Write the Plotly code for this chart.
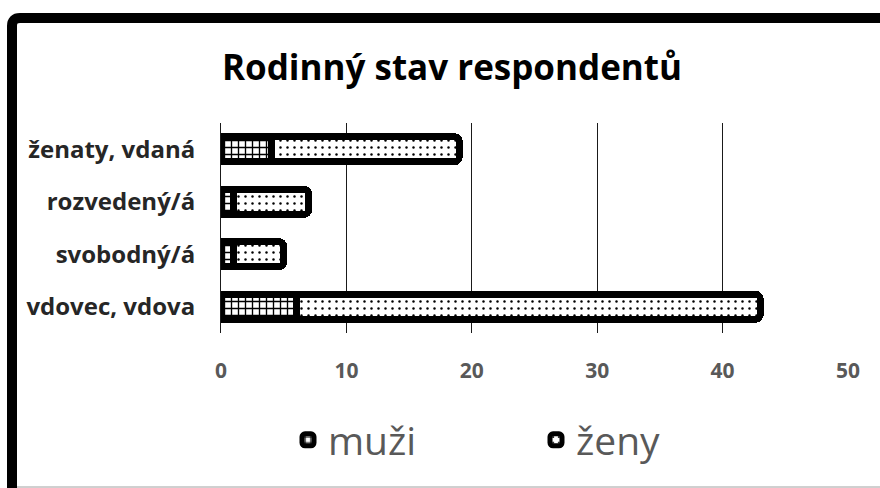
import plotly.graph_objects as go

categories = ["ženaty, vdaná", "rozvedený/á", "svobodný/á", "vdovec, vdova"]
muzi = [4, 1, 1, 6]
zeny = [15, 6, 4, 37]
x_ticks = [0, 10, 20, 30, 40, 50]

W, H = 880, 488
L, R, T, B = 221, 32, 123, 155
pw, ph = W - L - R, H - T - B

def px(x):
    return (x - L) / pw

def py(y):
    return (H - B - y) / ph

FONT = "Open Sans, Lato, sans-serif"

fig = go.Figure()
fig.add_trace(go.Bar(
    y=categories, x=muzi, name="muži", orientation="h",
    marker=dict(color="white", line=dict(color="black", width=7),
                pattern=dict(shape="+", fgcolor="black", bgcolor="white",
                             size=7, solidity=0.35, fillmode="replace")),
))
fig.add_trace(go.Bar(
    y=categories, x=zeny, name="ženy", orientation="h",
    marker=dict(color="white", line=dict(color="black", width=7),
                pattern=dict(shape=".", fgcolor="black", bgcolor="white",
                             size=7, solidity=0.1, fillmode="replace")),
))

# outer frame (thick black, rounded top-left corner)
x0, y0, r = 12, 18, 8
frame = (f"M {px(x0)},{py(H + 20)} L {px(x0)},{py(y0 + r)} "
         f"Q {px(x0)},{py(y0)} {px(x0 + r)},{py(y0)} L {px(W + 20)},{py(y0)}")

fig.update_layout(
    width=W, height=H,
    margin=dict(l=L, r=R, t=T, b=B, autoexpand=False),
    paper_bgcolor="white", plot_bgcolor="white",
    barmode="stack", bargap=0.52, barcornerradius=5,
    font=dict(family=FONT, color="#595959"),
    title=dict(text="<b>Rodinný stav respondentů</b>", x=452 / W, xanchor="center",
               y=1 - 68 / H, yanchor="middle",
               font=dict(size=35, color="black", family=FONT)),
    xaxis=dict(range=[0, 50], tickvals=x_ticks, showgrid=True, gridcolor="#1a1a1a",
               gridwidth=1, zeroline=False, showline=False,
               tickfont=dict(size=21, color="#595959", family=FONT, weight="bold"),
               ticks="outside", ticklen=19, tickcolor="rgba(0,0,0,0)", fixedrange=True),
    yaxis=dict(autorange="reversed", showline=True, linecolor="#1a1a1a", linewidth=1,
               tickfont=dict(size=24, color="#262626", family=FONT, weight="bold"),
               ticks="outside", ticklen=20, tickcolor="rgba(0,0,0,0)", fixedrange=True),
    legend=dict(orientation="h", x=px(288), xanchor="left", y=py(440), yanchor="middle",
                font=dict(size=39, color="#595959", family=FONT),
                entrywidth=203, entrywidthmode="pixels", traceorder="normal",
                bgcolor="rgba(0,0,0,0)"),
    shapes=[
        dict(type="path", xref="paper", yref="paper", path=frame,
             line=dict(color="black", width=10)),
        dict(type="line", xref="paper", yref="paper", x0=px(x0 + 5), x1=px(W),
             y0=py(H - 1), y1=py(H - 1), line=dict(color="#a0a0a0", width=1)),
    ],
)

fig.write_html("out.html", config={"displayModeBar": False},
               post_script="document.body.style.margin='0';document.body.style.overflow='hidden';")
